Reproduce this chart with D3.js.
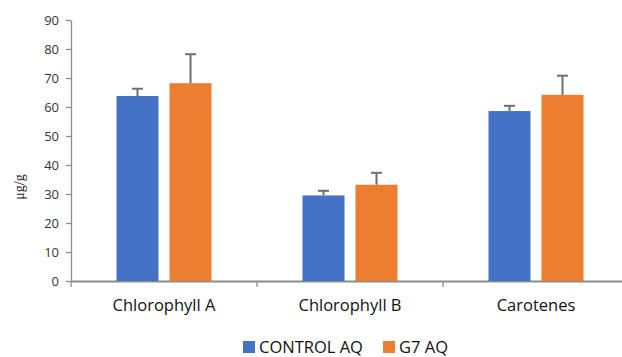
<!DOCTYPE html>
<html>
<head>
<meta charset="utf-8">
<script src="https://cdn.jsdelivr.net/npm/d3@7"></script>
<style>
  body { margin: 0; background: #fff; }
  svg { display: block; }
</style>
</head>
<body>
<div id="chart"></div>
<script>
// data
var categories = ["Chlorophyll A", "Chlorophyll B", "Carotenes"];
var seriesNames = ["CONTROL AQ", "G7 AQ"];
var controlVals = [63.8, 29.5, 58.6];
var controlErr = [2.5, 1.6, 1.8];
var g7Vals = [68.2, 33.2, 64.2];
var g7Err = [10.0, 4.1, 6.6];
var yTicks = [0, 10, 20, 30, 40, 50, 60, 70, 80, 90];

var colors = ["#4472C4", "#ED7D31"];

var svgWidth = 622, svgHeight = 357;
var margin = { top: 20, right: -7, bottom: 76, left: 71 };
var chartWidth = svgWidth - margin.left - margin.right;
var chartHeight = svgHeight - margin.top - margin.bottom;

var svg = d3.select("#chart").append("svg")
  .attr("width", svgWidth)
  .attr("height", svgHeight);

var chartGroup = svg.append("g")
  .attr("transform", `translate(${margin.left}, ${margin.top})`);

var yScale = d3.scaleLinear().domain([0, 90]).range([chartHeight, 0]);
var x0 = d3.scaleBand().domain(categories).range([0, chartWidth]).padding(0);
var x1 = d3.scaleBand().domain(seriesNames).range([-47.5, 47.5]).paddingInner(0.2075).paddingOuter(0);

// table built from the arrays
var rows = categories.map(function(c, i) {
  return {
    cat: c,
    vals: [
      { s: seriesNames[0], v: controlVals[i], e: controlErr[i], c: colors[0] },
      { s: seriesNames[1], v: g7Vals[i], e: g7Err[i], c: colors[1] }
    ]
  };
});

// y axis
var leftAxis = d3.axisLeft(yScale).tickValues(yTicks).tickSize(5).tickPadding(7).tickSizeOuter(0);
var yAx = chartGroup.append("g").call(leftAxis);
yAx.select(".domain").attr("stroke", "#8c8c8c").attr("stroke-width", 1.3);
yAx.selectAll(".tick line").attr("stroke", "#8c8c8c").attr("stroke-width", 1.3);
yAx.selectAll("text").attr("font-family", "Open Sans, sans-serif").attr("font-size", 13).attr("fill", "#333");

// x axis
var bottomAxis = d3.axisBottom(x0).tickSize(0).tickPadding(18).tickSizeOuter(0);
var xAx = chartGroup.append("g")
  .attr("transform", "translate(0, " + chartHeight + ")")
  .call(bottomAxis);
xAx.select(".domain").attr("stroke", "#8c8c8c").attr("stroke-width", 2);
xAx.selectAll("text").attr("font-family", "Open Sans, sans-serif").attr("font-size", 16.5).attr("fill", "#111");

// category boundary ticks
xAx.selectAll(".sep")
  .data(categories)
  .enter().append("line")
  .attr("x1", d => x0(d)).attr("x2", d => x0(d))
  .attr("y1", 0).attr("y2", 6)
  .attr("stroke", "#8c8c8c").attr("stroke-width", 1.3);

// bars
var groups = chartGroup.selectAll(".grp")
  .data(rows)
  .enter().append("g")
  .attr("transform", d => `translate(${x0(d.cat) + x0.bandwidth() / 2}, 0)`);

groups.selectAll("rect")
  .data(d => d.vals)
  .enter().append("rect")
  .attr("x", d => x1(d.s))
  .attr("y", d => yScale(d.v))
  .attr("width", x1.bandwidth())
  .attr("height", d => chartHeight - yScale(d.v))
  .attr("fill", d => d.c);

// error bars
var errs = groups.selectAll(".err")
  .data(d => d.vals)
  .enter().append("g");
errs.append("line")
  .attr("x1", d => x1(d.s) + x1.bandwidth() / 2)
  .attr("x2", d => x1(d.s) + x1.bandwidth() / 2)
  .attr("y1", d => yScale(d.v))
  .attr("y2", d => yScale(d.v + d.e))
  .attr("stroke", "#6e6e6e").attr("stroke-width", 2);
errs.append("line")
  .attr("x1", d => x1(d.s) + x1.bandwidth() / 2 - 5.5)
  .attr("x2", d => x1(d.s) + x1.bandwidth() / 2 + 5.5)
  .attr("y1", d => yScale(d.v + d.e))
  .attr("y2", d => yScale(d.v + d.e))
  .attr("stroke", "#6e6e6e").attr("stroke-width", 2);

// y label
svg.append("text")
  .attr("transform", "translate(24, 187) rotate(-90)")
  .attr("text-anchor", "middle")
  .attr("font-family", "Liberation Serif, serif")
  .attr("font-size", 14)
  .attr("fill", "#222")
  .text("μg/g");

// legend
var legendX = [243, 383];
var legend = svg.selectAll(".leg")
  .data(seriesNames)
  .enter().append("g")
  .attr("transform", (d, i) => `translate(${legendX[i]}, 341)`);
legend.append("rect")
  .attr("width", 12).attr("height", 12)
  .attr("fill", (d, i) => colors[i]);
legend.append("text")
  .attr("x", 16).attr("y", 12)
  .attr("font-family", "Open Sans, sans-serif")
  .attr("font-size", 16.5)
  .attr("fill", "#111")
  .text(d => d);
</script>
</body>
</html>
